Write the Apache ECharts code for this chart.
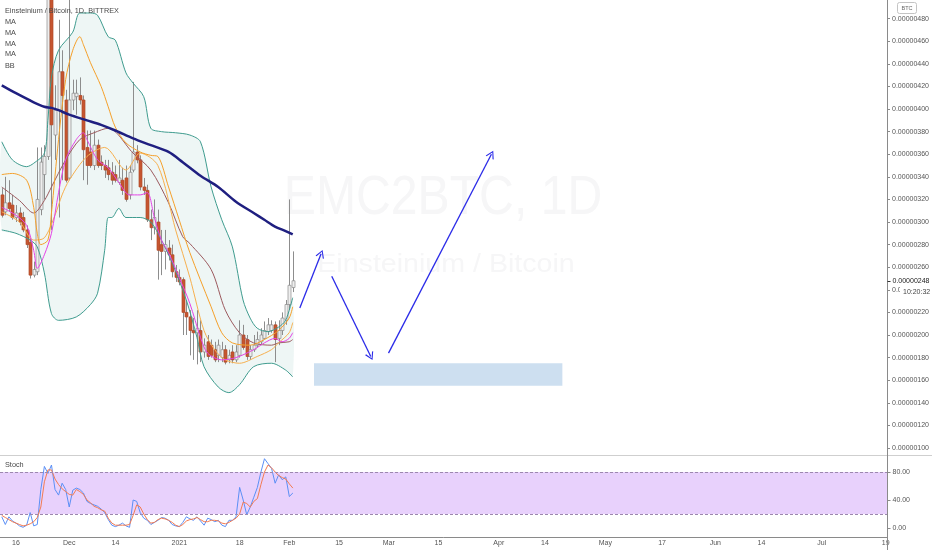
<!DOCTYPE html>
<html><head><meta charset="utf-8">
<script src="https://cdn.jsdelivr.net/npm/echarts/dist/echarts.min.js"></script>
<style>html,body{margin:0;padding:0;background:#fff}#c{width:932px;height:550px}</style>
</head><body><div id="c"></div>
<script>
// ---------- DATA (prices in satoshi, 1e-8 BTC) ----------
const startDate = [2020, 10, 12];   // first category: 12 Nov 2020
const dayCount = 250;
const tickDates = ['2020-11-16','2020-12-01','2020-12-14','2021-01-01','2021-01-18','2021-02-01','2021-02-15','2021-03-01','2021-03-15','2021-04-01','2021-04-14','2021-05-01','2021-05-17','2021-06-01','2021-06-14','2021-07-01','2021-07-19'];
const tickLabels = ['16','Dec','14','2021','18','Feb','15','Mar','15','Apr','14','May','17','Jun','14','Jul','19'];
const priceTicks = [100,120,140,160,180,200,220,240,260,280,300,320,340,360,380,400,420,440,460,480];
const stochTicks = [0,40,80];

const open  = [324,309,317,315,304,308,304,293,282,253, 256,311,342,358,535,377,399,433,408,339, 408,411,412,408,366,362,350,368,353,350, 348,344,342,335,337,339,324,346,362,355, 331,328,302,295,300,280,274,277,271,256, 251,249,220,216,204,202,204,185,194,191, 187,182,180,187,178,185,178,182,200,196, 181,187,191,194,197,203,204,209,197,204, 213,227,242];
const close = [306,317,312,304,308,300,293,280,253,258, 320,353,358,540,386,399,433,412,337,408, 414,414,408,364,350,350,368,350,350,346, 342,337,337,339,328,320,344,362,355,331, 328,302,295,304,275,274,280,271,256,251, 247,220,216,204,202,206,185,191,181,182, 178,191,187,176,182,178,185,200,189,181, 187,191,196,200,204,209,209,196,204,215, 227,244,248];
const low   = [304,306,309,302,300,297,291,277,250,251, 253,306,320,355,293,355,304,337,335,337, 399,395,404,337,333,348,346,348,346,339, 337,333,335,333,324,318,320,344,352,328, 324,300,284,289,249,253,258,266,251,247, 244,200,200,182,178,174,176,180,178,180, 176,176,176,174,175,175,176,180,187,178, 178,185,189,191,196,200,202,176,191,200, 209,222,238];
const high  = [330,340,337,324,315,313,309,297,286,265, 366,366,368,600,560,421,479,452,417,520, 426,426,428,412,381,381,381,373,359,355, 355,353,350,355,348,350,350,424,368,359, 339,333,311,320,311,293,293,284,280,262, 258,251,231,222,215,222,213,197,200,196, 194,196,194,191,187,191,191,213,209,200, 191,200,203,206,212,215,213,212,213,220, 231,320,274];
const currentPrice = 248;

const maNavy   = [[0,421],[4,414],[9,406],[12,402],[14,401],[16,399],[19,395],[24,390],[28,386],[32,381],[37,374],[42,368],[47,362],[51,353],[56,341],[61,331],[66,318],[71,308],[74,302],[77,296],[80,292],[82,289]];
const maOrangeA = [[0,342],[3,343],[7,337],[9,313],[10,290],[11,280],[13,284],[14,308],[16,373],[18,426],[20,452],[22,464],[23,457],[25,441],[28,420],[30,402],[32,384],[35,370],[39,362],[42,359],[44,358],[47,331],[50,302],[53,273],[59,225],[62,202],[65,193],[70,191],[74,196],[78,204],[81,215],[82,225]];
const maOrangeB = [[0,309],[5,300],[9,284],[12,286],[15,306],[17,324],[19,337],[24,358],[29,366],[35,346],[39,361],[44,350],[49,293],[53,251],[57,204],[60,187],[63,178],[67,175],[72,181],[76,187],[78,193],[81,202],[82,211]];
const maMagenta = [[0,313],[4,306],[7,297],[9,275],[10,259],[12,271],[14,290],[16,326],[18,355],[21,373],[23,379],[24,373],[27,355],[30,348],[33,335],[36,324],[39,324],[41,326],[43,304],[45,284],[47,273],[50,251],[53,228],[56,198],[58,184],[62,178],[66,180],[71,187],[74,193],[77,197],[79,194],[81,197],[82,202]];
const bbBasis  = [[0,331],[5,319],[9,308],[12,319],[14,331],[18,355],[22,373],[26,379],[30,383],[37,361],[42,346],[47,317],[51,287],[53,281],[59,258],[63,222],[67,202],[71,193],[76,191],[78,193],[81,194],[82,196]];
const bbUpper  = [[0,371],[3,355],[7,349],[9,352],[12,361],[13,390],[14,428],[16,452],[20,468],[22,485],[25,485],[27,483],[30,464],[32,461],[35,432],[37,423],[40,411],[42,383],[45,380],[49,379],[53,377],[56,371],[59,331],[62,302],[65,278],[68,231],[70,215],[72,206],[75,203],[78,207],[80,213],[82,233]];
const bbLower  = [[0,293],[4,290],[8,284],[10,278],[12,255],[14,219],[16,213],[21,216],[25,227],[27,237],[29,275],[30,304],[31,304],[33,312],[35,304],[39,304],[42,300],[45,284],[48,264],[52,231],[55,198],[57,172],[61,154],[64,149],[67,156],[71,172],[76,175],[80,169],[82,163]];

const stochK = [16,5,16,10,7,3,1,4,22,3, 5,55,88,78,90,55,47,64,55,30, 54,57,55,50,38,35,33,31,27,22, 12,4,2,4,7,3,1,40,38,22, 14,11,5,8,11,15,14,11,5,3, 2,8,16,13,11,16,10,4,14,12, 9,11,4,2,11,11,16,58,40,19, 30,44,58,80,99,92,85,64,76,69, 73,45,50];
const stochD = [18,15,12,9,7,5,3,4,6,9, 15,30,66,83,83,70,62,56,52,48, 47,55,52,48,40,36,31,29,26,24, 14,7,4,4,4,4,5,18,33,30, 20,12,7,8,12,14,13,11,8,4, 2,5,10,12,13,15,12,9,9,11, 11,10,7,6,8,11,14,20,37,35, 30,38,42,62,80,90,86,80,75,72, 70,63,57];
const stochBand = [20, 80];

// drawings (category index, price)
const arrows = [[[84,224],[90,272]], [[93,252],[104,181]], [[109,184],[138,360]]];
const zoneBox = [[88,175],[158,155]];

// ---------- BUILD ----------
const FONT = 'Liberation Sans, Arial, sans-serif';
const categories = [];
for (let i = 0; i < dayCount; i++) {
  const d = new Date(Date.UTC(startDate[0], startDate[1], startDate[2] + i));
  categories.push(d.toISOString().slice(0, 10));
}
const labelMap = {};
tickDates.forEach((d, k) => { labelMap[d] = tickLabels[k]; });
const candleData = open.map((o, i) => [i, o, close[i], low[i], high[i]]);
const kData = stochK.map((v, i) => [i, v]);
const dData = stochD.map((v, i) => [i, v]);

const chart = echarts.init(document.getElementById('c'), null, {renderer: 'canvas'});

function line(data, color, width, z, extra) {
  return Object.assign({
    type: 'line', xAxisIndex: 0, yAxisIndex: 0, data: data, symbol: 'none', showSymbol: false,
    smooth: 0.3, silent: true, z: z, clip: true,
    lineStyle: {color: color, width: width}
  }, extra || {});
}

const chevron = 'path://M0,10 L5,0 L10,10 L8.7,10.4 L5,2.6 L1.3,10.4 Z';

const option = {
  animation: false,
  backgroundColor: '#ffffff',
  grid: [
    {left: 0, right: 44.5, top: 0, height: 448},
    {left: 0, right: 44.5, top: 455, height: 73}
  ],
  xAxis: [
    {type: 'category', gridIndex: 0, data: categories, boundaryGap: true, show: false},
    {type: 'category', gridIndex: 1, data: categories, boundaryGap: true, offset: 9,
      axisLine: {onZero: false, lineStyle: {color: '#8a8a8a', width: 1}},
      axisTick: {length: 3, alignWithLabel: true, interval: (i, v) => v in labelMap, lineStyle: {color: '#8a8a8a'}},
      axisLabel: {interval: (i, v) => v in labelMap, formatter: v => labelMap[v] || '', color: '#555', fontSize: 7, fontFamily: FONT, margin: 3},
      splitLine: {show: false}}
  ],
  yAxis: [
    {type: 'value', gridIndex: 0, position: 'right', min: 100, max: 496.5,
      axisLine: {show: false},
      axisTick: {show: true, length: 3, customValues: priceTicks, lineStyle: {color: '#8a8a8a'}},
      axisLabel: {customValues: priceTicks, formatter: v => (v / 1e8).toFixed(8), color: '#555', fontSize: 7, fontFamily: FONT, margin: 5},
      splitLine: {show: false}},
    {type: 'value', gridIndex: 1, position: 'right', min: 0, max: 104.3,
      axisLine: {show: false},
      axisTick: {show: true, length: 3, customValues: stochTicks, lineStyle: {color: '#8a8a8a'}},
      axisLabel: {customValues: stochTicks, formatter: v => v.toFixed(2), color: '#555', fontSize: 7, fontFamily: FONT, margin: 5},
      splitLine: {show: false}}
  ],
  series: [
    { // Bollinger fill
      type: 'custom', xAxisIndex: 0, yAxisIndex: 0, z: 1, silent: true, clip: true,
      data: [[0, 300]], encode: {x: 0, y: 1},
      renderItem: (params, api) => {
        const pts = bbUpper.map(p => api.coord(p)).concat(bbLower.slice().reverse().map(p => api.coord(p)));
        return {type: 'polygon', shape: {points: pts, smooth: 0.3}, style: {fill: 'rgba(63,156,143,0.09)'}};
      }
    },
    { // candles
      type: 'custom', xAxisIndex: 0, yAxisIndex: 0, z: 2, silent: true, clip: true,
      data: candleData, encode: {x: 0, y: [1, 2, 3, 4]},
      renderItem: (params, api) => {
        const i = api.value(0), o = api.value(1), c = api.value(2), l = api.value(3), h = api.value(4);
        const pO = api.coord([i, o]), pC = api.coord([i, c]), pL = api.coord([i, l]), pH = api.coord([i, h]);
        const x = Math.round(pO[0]) + 0.5, w = 3;
        const up = c >= o;
        const top = Math.min(pO[1], pC[1]), bot = Math.max(pO[1], pC[1]);
        return {type: 'group', children: [
          {type: 'line', shape: {x1: x, y1: pH[1], x2: x, y2: pL[1]}, style: {stroke: '#8d8d8d', lineWidth: 1}},
          {type: 'rect', shape: {x: x - w / 2, y: top, width: w, height: Math.max(bot - top, 1)},
            style: {fill: up ? '#eeeeee' : '#c65530', stroke: up ? '#8d8d8d' : '#b04a2a', lineWidth: 0.7}}
        ]};
      }
    },
    line(bbUpper, '#3f9c8f', 1, 3),
    line(bbLower, '#3f9c8f', 1, 3),
    line(bbBasis, '#9c5a5e', 1, 3),
    line(maOrangeB, '#f7b04f', 1, 3),
    line(maOrangeA, '#f5a02a', 1, 3),
    line(maMagenta, '#e442e6', 1, 3),
    line(maNavy, '#1f1f80', 2.5, 4, {
      markLine: {
        silent: true, animation: false, symbol: ['none', chevron], symbolSize: [9, 8],
        label: {show: false}, emphasis: {disabled: true},
        lineStyle: {color: '#2b2be8', width: 1.3, type: 'solid'},
        data: arrows.map(a => [{coord: a[0]}, {coord: a[1]}])
      },
      markArea: {
        silent: true, itemStyle: {color: '#cddff0'}, label: {show: false}, emphasis: {disabled: true},
        data: [[{coord: zoneBox[0]}, {coord: zoneBox[1]}]]
      }
    }),
    { // Stoch %K
      type: 'line', xAxisIndex: 1, yAxisIndex: 1, data: kData, symbol: 'none', silent: true, z: 3,
      lineStyle: {color: '#5b8ff5', width: 1},
      markArea: {silent: true, itemStyle: {color: '#e8d1fc'}, label: {show: false}, emphasis: {disabled: true},
        data: [[{yAxis: stochBand[0]}, {yAxis: stochBand[1]}]]},
      markLine: {silent: true, symbol: 'none', label: {show: false}, emphasis: {disabled: true}, animation: false,
        lineStyle: {color: '#9c88ae', width: 1, type: [3, 2]},
        data: [{yAxis: stochBand[0]}, {yAxis: stochBand[1]}]}
    },
    { // Stoch %D
      type: 'line', xAxisIndex: 1, yAxisIndex: 1, data: dData, symbol: 'none', silent: true, z: 3,
      lineStyle: {color: '#f27b52', width: 1}
    }
  ]
};
chart.setOption(option);

const yCur = chart.convertToPixel({gridIndex: 0}, [0, currentPrice])[1];
const txt = (x, y, text, size, fill, align, extra) => Object.assign({type: 'text', x: x, y: y, silent: true, z: 100,
  style: {text: text, font: size + 'px ' + FONT, fill: fill, align: align || 'left', verticalAlign: 'middle'}}, extra || {});

chart.setOption({graphic: [
  txt(443, 199, 'EMC2BTC, 1D', 56, '#f6f6f7', 'center', {scaleX: 0.86, z: -1}),
  txt(446, 265, 'Einsteinium / Bitcoin', 26, '#f6f6f7', 'center', {scaleX: 1.1, z: -1}),
  {type: 'line', silent: true, z: 100, shape: {x1: 0, y1: 455.5, x2: 932, y2: 455.5}, style: {stroke: '#cfcfcf', lineWidth: 1}},
  {type: 'line', silent: true, z: 100, shape: {x1: 887.5, y1: 0, x2: 887.5, y2: 550}, style: {stroke: '#8a8a8a', lineWidth: 1}},
  txt(5, 11, 'Einsteinium / Bitcoin, 1D, BITTREX', 7.3, '#4a4a4a'),
  txt(5, 21.8, 'MA', 7.3, '#4a4a4a'),
  txt(5, 32.7, 'MA', 7.3, '#4a4a4a'),
  txt(5, 43.5, 'MA', 7.3, '#4a4a4a'),
  txt(5, 54.3, 'MA', 7.3, '#4a4a4a'),
  txt(5, 65.5, 'BB', 7.3, '#4a4a4a'),
  txt(5, 465, 'Stoch', 7.3, '#4a4a4a'),
  {type: 'rect', silent: true, z: 100, shape: {x: 897.5, y: 2.5, width: 19, height: 11, r: 2}, style: {fill: '#fff', stroke: '#c4c4c4', lineWidth: 1}},
  txt(907, 8, 'BTC', 5.5, '#666', 'center', {z: 101}),
  {type: 'rect', silent: true, z: 100, shape: {x: 889, y: yCur - 5, width: 43, height: 9.5}, style: {fill: '#fff'}},
  {type: 'line', silent: true, z: 101, shape: {x1: 887.5, y1: Math.round(yCur) + 0.5, x2: 890.5, y2: Math.round(yCur) + 0.5}, style: {stroke: '#333', lineWidth: 1}},
  txt(892.5, yCur, (currentPrice / 1e8).toFixed(8), 7, '#222', 'left', {z: 101}),
  {type: 'rect', silent: true, z: 102, shape: {x: 900, y: yCur + 6, width: 32, height: 10}, style: {fill: '#fff'}},
  txt(903, yCur + 11.5, '10:20:32', 7, '#444', 'left', {z: 103})
]});
</script></body></html>
